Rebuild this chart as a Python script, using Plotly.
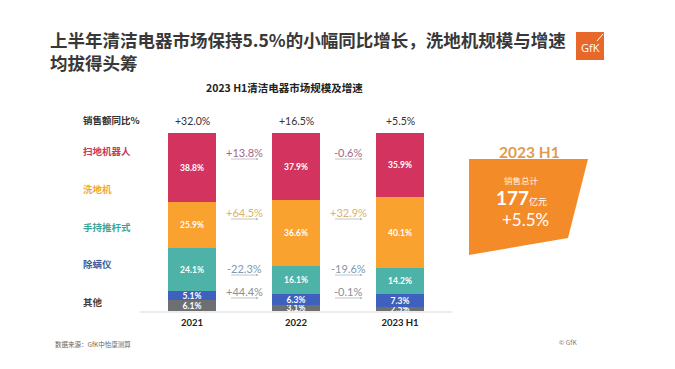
import plotly.graph_objects as go

W, H = 675, 369

years = ["2021", "2022", "2023 H1"]
categories = ["其他", "除螨仪", "手持推杆式", "洗地机", "扫地机器人"]
share_other = [6.1, 3.1, 2.5]
share_mite = [5.1, 6.3, 7.3]
share_stick = [24.1, 16.1, 14.2]
share_floor = [25.9, 36.6, 40.1]
share_robot = [38.8, 37.9, 35.9]
total_yoy = ["+32.0%", "+16.5%", "+5.5%"]
# category growth: 2021->2022, 2022->2023H1
yoy_robot = ["+13.8%", "-0.6%"]
yoy_floor = ["+64.5%", "+32.9%"]
yoy_stick = ["-22.3%", "-19.6%"]
yoy_mite = ["+44.4%", "-0.1%"]
h1_total = "177"
h1_growth = "+5.5%"

colors = {
    "扫地机器人": "#D2345F",
    "洗地机": "#F9A22F",
    "手持推杆式": "#4DB3A8",
    "除螨仪": "#4060BE",
    "其他": "#6C7073",
}
label_colors = {
    "销售额同比%": "#333333",
    "扫地机器人": "#C8385E",
    "洗地机": "#F0A830",
    "手持推杆式": "#3AA59A",
    "除螨仪": "#3D5A99",
    "其他": "#444444",
}
yoy_colors = {
    "扫地机器人": "#9C6A86",
    "洗地机": "#D8B36C",
    "手持推杆式": "#7E99A8",
    "除螨仪": "#8C9096",
}

NUM_FONT = "Lato, Noto Sans CJK SC, sans-serif"
CJK_FONT = "Noto Sans CJK SC, sans-serif"


def px(x):
    return x / W


def py(y):
    return 1 - y / H


series = [
    ("其他", share_other),
    ("除螨仪", share_mite),
    ("手持推杆式", share_stick),
    ("洗地机", share_floor),
    ("扫地机器人", share_robot),
]

xs = list(range(len(years)))
fig = go.Figure()
for name, vals in series:
    fig.add_trace(go.Bar(
        x=xs, y=vals, name=name,
        marker=dict(color=colors[name], line=dict(width=0)),
        width=0.46,
        text=[f"{v:.1f}%" for v in vals],
        textposition="inside",
        insidetextanchor="middle",
        constraintext="none",
        cliponaxis=True,
        textfont=dict(family=NUM_FONT, size=8.5, color="white", weight="bold"),
        hoverinfo="skip",
    ))

annotations = []

# title
annotations.append(dict(
    x=px(48), y=py(51), xref="paper", yref="paper", xanchor="left", yanchor="middle",
    text="<b>上半年清洁电器市场保持5.5%的小幅同比增长，洗地机规模与增速<br>均拔得头筹</b>",
    showarrow=False, align="left",
    font=dict(family=CJK_FONT, size=17.5, color="#383838"),
))
# subtitle
annotations.append(dict(
    x=px(284), y=py(87), xref="paper", yref="paper", xanchor="center", yanchor="middle",
    text="<b>2023 H1清洁电器市场规模及增速</b>", showarrow=False,
    font=dict(family=CJK_FONT, size=10.5, color="#222222"),
))
# GfK logo text
annotations.append(dict(
    x=px(590), y=py(47), xref="paper", yref="paper", xanchor="center", yanchor="middle",
    text="GfK", showarrow=False,
    font=dict(family="Open Sans, sans-serif", size=11, color="white"),
))

# left row labels
row_labels = [("销售额同比%", 120), ("扫地机器人", 151), ("洗地机", 189),
              ("手持推杆式", 227), ("除螨仪", 264), ("其他", 302)]
for txt, yy in row_labels:
    annotations.append(dict(
        x=px(81), y=py(yy), xref="paper", yref="paper", xanchor="left", yanchor="middle",
        text=f"<b>{txt}</b>", showarrow=False,
        font=dict(family=CJK_FONT, size=9.5, color=label_colors[txt]),
    ))

# total yoy above bars
for i, t in enumerate(total_yoy):
    annotations.append(dict(
        x=xs[i], y=py(121), xref="x", yref="paper", xanchor="center", yanchor="middle",
        text=t, showarrow=False,
        font=dict(family=NUM_FONT, size=10.5, color="#333333"),
    ))

# category growth between bars
growth_rows = [("扫地机器人", yoy_robot, 152), ("洗地机", yoy_floor, 212),
               ("手持推杆式", yoy_stick, 268), ("除螨仪", yoy_mite, 291)]
for name, vals, yy in growth_rows:
    for j, t in enumerate(vals):
        xc = j + 0.5
        annotations.append(dict(
            x=xc, y=py(yy), xref="x", yref="paper", xanchor="center", yanchor="middle",
            text=t, showarrow=False,
            font=dict(family=NUM_FONT, size=11, color=yoy_colors[name]),
        ))
        annotations.append(dict(
            x=xc + 0.14, y=py(yy + 7), xref="x", yref="paper",
            ax=-29, ay=0, axref="pixel", ayref="pixel",
            text="", showarrow=True, arrowhead=2, arrowsize=0.6, arrowwidth=0.8,
            arrowcolor="#B5B5B5",
        ))

# orange summary box texts
annotations.append(dict(
    x=px(529), y=py(152), xref="paper", yref="paper", xanchor="center", yanchor="middle",
    text="<b>2023 H1</b>", showarrow=False,
    font=dict(family=NUM_FONT, size=15.5, color="#DF9B50"),
))
annotations.append(dict(
    x=px(521), y=py(180), xref="paper", yref="paper", xanchor="center", yanchor="middle",
    text="销售总计", showarrow=False,
    font=dict(family=CJK_FONT, size=8.5, color="#FFF2E0"),
))
annotations.append(dict(
    x=px(521), y=py(197), xref="paper", yref="paper", xanchor="center", yanchor="middle",
    text=f"<b>{h1_total}</b><span style='font-size:9px'>亿元</span>", showarrow=False,
    font=dict(family=NUM_FONT, size=19, color="white"),
))
annotations.append(dict(
    x=px(525), y=py(219), xref="paper", yref="paper", xanchor="center", yanchor="middle",
    text=h1_growth, showarrow=False,
    font=dict(family=NUM_FONT, size=17, color="white"),
))

# footer
annotations.append(dict(
    x=px(53), y=py(344), xref="paper", yref="paper", xanchor="left", yanchor="middle",
    text="数据来源：GfK中怡康测算", showarrow=False,
    font=dict(family=CJK_FONT, size=6.5, color="#666666"),
))
annotations.append(dict(
    x=px(568), y=py(342), xref="paper", yref="paper", xanchor="center", yanchor="middle",
    text="© GfK", showarrow=False,
    font=dict(family=CJK_FONT, size=6.5, color="#777777"),
))

shapes = [
    # GfK logo square
    dict(type="rect", xref="paper", yref="paper",
         x0=px(576), x1=px(604), y0=py(60), y1=py(32),
         fillcolor="#E8682A", line=dict(width=0), layer="above"),
    dict(type="line", xref="paper", yref="paper",
         x0=px(597), x1=px(603), y0=py(41), y1=py(34),
         line=dict(color="white", width=1), layer="above"),
    # orange summary box
    dict(type="path", xref="paper", yref="paper",
         path=(f"M {px(469)},{py(159)} L {px(588)},{py(159)} "
               f"L {px(568)},{py(238)} L {px(469)},{py(255)} Z"),
         fillcolor="#F48B29", line=dict(width=0), layer="below"),
]

fig.update_layout(
    width=W, height=H,
    margin=dict(l=0, r=0, t=0, b=0),
    paper_bgcolor="white", plot_bgcolor="white",
    barmode="stack", bargap=0,
    showlegend=False,
    annotations=annotations,
    shapes=shapes,
    uniformtext=dict(mode=False),
    xaxis=dict(
        domain=[px(140), px(452)],
        range=[-0.5, 2.5],
        tickvals=xs,
        ticktext=[f"<b>{y}</b>" for y in years],
        tickfont=dict(family=NUM_FONT, size=9.5, color="#222222"),
        showgrid=False, zeroline=False,
        showline=True, linecolor="#ECECEC", linewidth=1.5,
        ticks="", ticklabelstandoff=2,
    ),
    yaxis=dict(
        domain=[py(311), py(133)],
        range=[0, 100],
        visible=False,
        showgrid=False, zeroline=False,
    ),
)

fig.write_html(
    "out.html",
    config={"displayModeBar": False},
    post_script="document.body.style.margin='0px';document.body.style.overflow='hidden';",
)
